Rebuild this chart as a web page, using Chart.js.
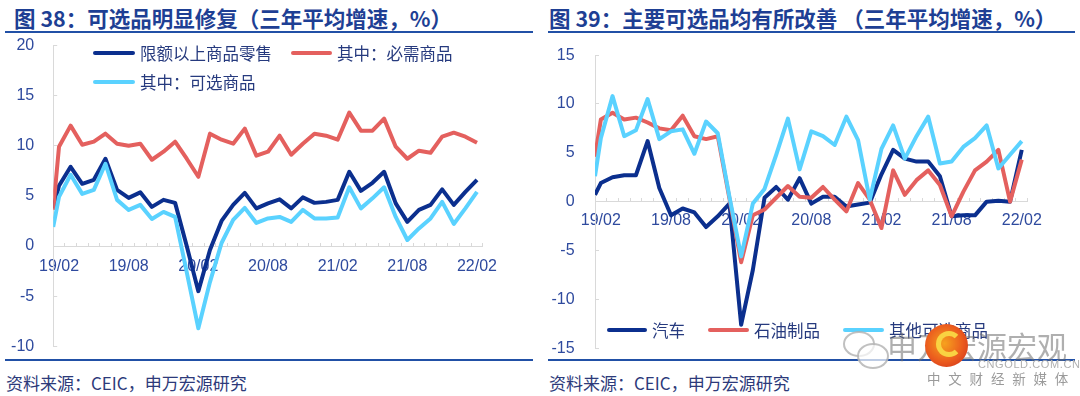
<!DOCTYPE html>
<html><head><meta charset="utf-8">
<script src="https://cdn.jsdelivr.net/npm/chart.js@4.4.1/dist/chart.umd.min.js"></script>
<style>
html,body{margin:0;padding:0;background:#fff;}
body{width:1080px;height:396px;position:relative;overflow:hidden;font-family:"Noto Sans CJK SC","Noto Sans",sans-serif;}
.title{position:absolute;top:4px;font-weight:bold;font-size:21.5px;color:#1E3F94;white-space:nowrap;line-height:28px;}
.rule{position:absolute;height:2px;background:#2150A6;}
.src{position:absolute;top:371px;font-size:17px;color:#2D3A7A;line-height:23px;white-space:nowrap;}
.cw{position:absolute;top:34px;width:540px;height:324px;}
.lg{position:absolute;font-size:16.5px;color:#263A7E;line-height:20px;white-space:nowrap;}
.sw{position:absolute;height:4px;border-radius:2px;}
.wm{position:absolute;white-space:nowrap;}
</style></head>
<body>
<div class="title" style="left:14px;">图 38：可选品明显修复（三年平均增速，%）</div>
<div class="rule" style="left:5px;width:528px;top:31px;"></div>
<div class="title" style="left:549px;">图 39：主要可选品均有所改善 （三年平均增速，%）</div>
<div class="rule" style="left:548px;width:527px;top:31px;"></div>

<div class="cw" style="left:0;"><canvas id="c1"></canvas></div>
<div class="cw" style="left:540px;"><canvas id="c2"></canvas></div>

<div id="lg1"></div>
<div id="lg2"></div>

<div class="rule" style="left:5px;width:528px;top:359px;"></div>
<div class="rule" style="left:548px;width:527px;top:359px;"></div>
<div class="src" style="left:6px;">资料来源：CEIC，申万宏源研究</div>
<div class="src" style="left:549px;">资料来源：CEIC，申万宏源研究</div>

<!-- watermark -->
<div class="wm" style="left:843px;top:331px;width:28px;height:22px;border:2px solid rgba(150,150,150,0.6);border-radius:50%;background:rgba(255,255,255,0.5);"></div>
<div class="wm" style="left:857px;top:343px;width:28px;height:22px;border:2px solid rgba(150,150,150,0.6);border-radius:50%;background:rgba(255,255,255,0.7);"></div>
<div class="wm" style="left:887px;top:326px;font-size:30px;line-height:38px;color:rgba(110,110,110,0.55);letter-spacing:0px;font-family:'Noto Sans CJK SC';">申万宏源宏观</div>
<div class="wm" style="left:925px;top:324px;width:43px;height:43px;border-radius:50%;background:radial-gradient(circle at 45% 45%,#F6A21E 0%,#EB5B1E 55%,#C8281B 100%);"></div>
<div class="wm" style="left:936px;top:331px;width:16px;height:16px;border-radius:50%;border:5px solid #F9D342;border-right-color:transparent;"></div>
<div class="wm" style="left:978px;top:357px;font-size:11px;line-height:14px;color:#B0B0B0;letter-spacing:0.6px;font-family:'Liberation Sans';">CNGOLD.COM.CN</div>
<div class="wm" style="left:927px;top:369px;font-size:13.5px;line-height:18px;color:#9A9A9A;letter-spacing:7.8px;">中文财经新媒体</div>

<script>
// ---------- categories / ticks ----------
const months = ['19/02','19/03','19/04','19/05','19/06','19/07','19/08','19/09','19/10','19/11','19/12',
  '20/01','20/02','20/03','20/04','20/05','20/06','20/07','20/08','20/09','20/10','20/11','20/12',
  '21/01','21/02','21/03','21/04','21/05','21/06','21/07','21/08','21/09','21/10','21/11','21/12',
  '22/01','22/02'];
const leftYTicks = [-10, -5, 0, 5, 10, 15, 20];
const rightYTicks = [-15, -10, -5, 0, 5, 10, 15];

// ---------- chart 38 series (value at the left plot edge, then 19/02..22/02) ----------
const retailName = '限额以上商品零售';
const retailEdge = 3.75;
const retailValues = [6.0, 7.9, 6.2, 6.6, 8.7, 5.6, 4.8, 5.35, 3.9, 4.6, 4.3, 0.0,
  -4.5, -0.4, 2.5, 4.1, 5.3, 3.75, 4.25, 4.65, 3.75, 4.85, 4.3, 4.4,
  4.6, 7.4, 5.5, 6.3, 7.4, 4.25, 2.4, 3.6, 4.1, 5.65, 4.1, 5.4, 6.6];

const essentialName = '其中：必需商品';
const essentialEdge = 3.6;
const essentialValues = [9.9, 12.0, 10.1, 10.4, 11.2, 10.2, 10.0, 10.2, 8.6, 9.4, 10.4, 8.7,
  6.9, 11.2, 10.6, 10.2, 11.7, 9.0, 9.4, 11.0, 9.1, 10.2, 11.2, 11.0,
  10.6, 13.3, 11.5, 11.5, 12.7, 9.9, 8.7, 9.5, 9.3, 10.9, 11.3, 10.9, 10.3];

const optionalName = '其中：可选商品';
const optionalEdge = 1.9;
const optionalValues = [4.9, 7.1, 5.2, 5.6, 8.2, 4.6, 3.6, 4.1, 2.7, 3.4, 2.9, -2.6,
  -8.2, -3.6, 0.3, 2.6, 3.8, 2.3, 2.75, 2.9, 2.4, 3.6, 2.75, 2.75,
  2.85, 5.85, 3.75, 4.75, 5.85, 2.9, 0.6, 1.75, 2.75, 4.4, 2.2, 3.75, 5.4];

// ---------- chart 39 series ----------
const autoName = '汽车';
const autoEdge = 0.7;
const autoValues = [1.9, 2.5, 2.7, 2.7, 6.2, 1.4, -1.4, -0.7, -1.1, -2.6, -1.5, -0.2,
  -12.6, -7.0, 0.4, 1.5, 0.2, 2.4, -0.2, 0.5, 0.5, -0.5, -0.3, -0.1,
  2.8, 5.3, 4.4, 4.1, 4.1, 2.6, -1.5, -1.4, -1.4, 0.0, 0.1, 0.0, 5.3];

const oilName = '石油制品';
const oilEdge = 4.6;
const oilValues = [8.4, 9.1, 8.4, 8.6, 8.1, 7.5, 7.3, 8.8, 6.7, 6.4, 6.7, 0.3,
  -6.2, -1.4, -0.8, 0.4, 1.6, 0.5, 0.4, 1.5, 0.2, -1.0, 1.9, 0.2,
  -2.7, 3.2, 0.7, 2.2, 3.2, 1.7, -1.5, 1.0, 3.2, 4.1, 5.3, 0.0, 4.3];

const otherName = '其他可选商品';
const otherEdge = 2.6;
const otherValues = [6.5, 10.8, 6.7, 7.3, 10.5, 6.4, 7.2, 7.4, 4.9, 8.2, 7.0, 0.5,
  -5.6, -0.2, 1.3, 4.8, 8.5, 3.3, 7.2, 6.7, 5.8, 8.7, 6.3, 0.2,
  5.4, 7.8, 4.4, 6.7, 8.7, 3.9, 4.1, 5.6, 6.5, 7.8, 3.4, 4.8, 6.2];

// ---------- styles ----------
const NAVY = '#0B2F8E', RED = '#E4605E', SKY = '#5AD2FF';
const AXIS = '#D9D9D9', TICK_TXT = '#2E4A9E';
const LABEL_EVERY = 6;

function makeChart(canvasId, series, yTicks, lay) {
  const xMin = -0.5, xMax = months.length - 0.5;
  const datasets = series.map((s, k) => ({
    label: s.name,
    data: [{x: xMin, y: s.edge}].concat(s.values.map((v, i) => ({x: i, y: v}))),
    borderColor: s.color,
    backgroundColor: s.color,
    borderWidth: 4,
    pointRadius: 0,
    tension: 0,
    borderJoinStyle: 'round',
    borderCapStyle: 'butt',
    xAxisID: 'xd',
    yAxisID: 'y',
    order: series.length - k
  }));
  const tickFont = {family: 'Liberation Sans', size: 16};
  return new Chart(document.getElementById(canvasId), {
    type: 'line',
    data: {datasets},
    options: {
      responsive: true,
      maintainAspectRatio: false,
      animation: false,
      devicePixelRatio: 1,
      layout: {padding: {left: 0, right: lay.right, top: lay.top, bottom: lay.bottom}},
      plugins: {legend: {display: false}, tooltip: {enabled: false}},
      scales: {
        xd: {type: 'linear', display: false, min: xMin, max: xMax},
        x: {
          type: 'category', labels: months, offset: true,
          position: {y: 0},
          grid: {offset: true, drawOnChartArea: false, tickLength: -4, color: AXIS, lineWidth: 1},
          border: {color: AXIS, width: 1},
          ticks: {autoSkip: false, maxRotation: 0, minRotation: 0, padding: lay.xPad,
            font: tickFont, color: TICK_TXT,
            callback: (v, i) => (i % LABEL_EVERY === 0 ? months[i] : '')},
          afterFit: s => { s.height = 0; s.paddingLeft = 0; s.paddingRight = 0; }
        },
        y: {
          type: 'linear', position: 'left',
          min: yTicks[0], max: yTicks[yTicks.length - 1],
          afterBuildTicks: s => { s.ticks = yTicks.map(v => ({value: v})); },
          grid: {drawOnChartArea: false, tickLength: -4, color: AXIS},
          border: {color: AXIS, width: 1},
          ticks: {padding: lay.yPad, font: tickFont, color: TICK_TXT},
          afterFit: s => { s.width = lay.yWidth; s.paddingTop = 0; s.paddingBottom = 0; }
        }
      }
    }
  });
}

makeChart('c1', [
  {name: retailName, edge: retailEdge, values: retailValues, color: NAVY},
  {name: essentialName, edge: essentialEdge, values: essentialValues, color: RED},
  {name: optionalName, edge: optionalEdge, values: optionalValues, color: SKY}
], leftYTicks, {right: 57.2, top: 11.4, bottom: 11.7, yWidth: 53.2, yPad: 23, xPad: 15});

makeChart('c2', [
  {name: autoName, edge: autoEdge, values: autoValues, color: NAVY},
  {name: oilName, edge: oilEdge, values: oilValues, color: RED},
  {name: otherName, edge: otherEdge, values: otherValues, color: SKY}
], rightYTicks, {right: 52.4, top: 21.1, bottom: 9.8, yWidth: 55, yPad: 24.4, xPad: 13});

// ---------- legends (HTML) ----------
function legendItem(parent, x, y, w, color, text) {
  const sw = document.createElement('div');
  sw.className = 'sw';
  sw.style.cssText = `left:${x}px;top:${y - 2}px;width:${w}px;background:${color};`;
  parent.appendChild(sw);
  const t = document.createElement('div');
  t.className = 'lg';
  t.style.cssText = `left:${x + w + 5}px;top:${y - 10}px;`;
  t.textContent = text;
  parent.appendChild(t);
}
const lg1 = document.getElementById('lg1');
legendItem(lg1, 93, 53, 42, NAVY, retailName);
legendItem(lg1, 291, 53, 41, RED, essentialName);
legendItem(lg1, 93, 82, 42, SKY, optionalName);
const lg2 = document.getElementById('lg2');
legendItem(lg2, 607, 330, 40, NAVY, autoName);
legendItem(lg2, 708, 330, 41, RED, oilName);
legendItem(lg2, 843, 330, 41, SKY, otherName);
</script>
</body></html>
